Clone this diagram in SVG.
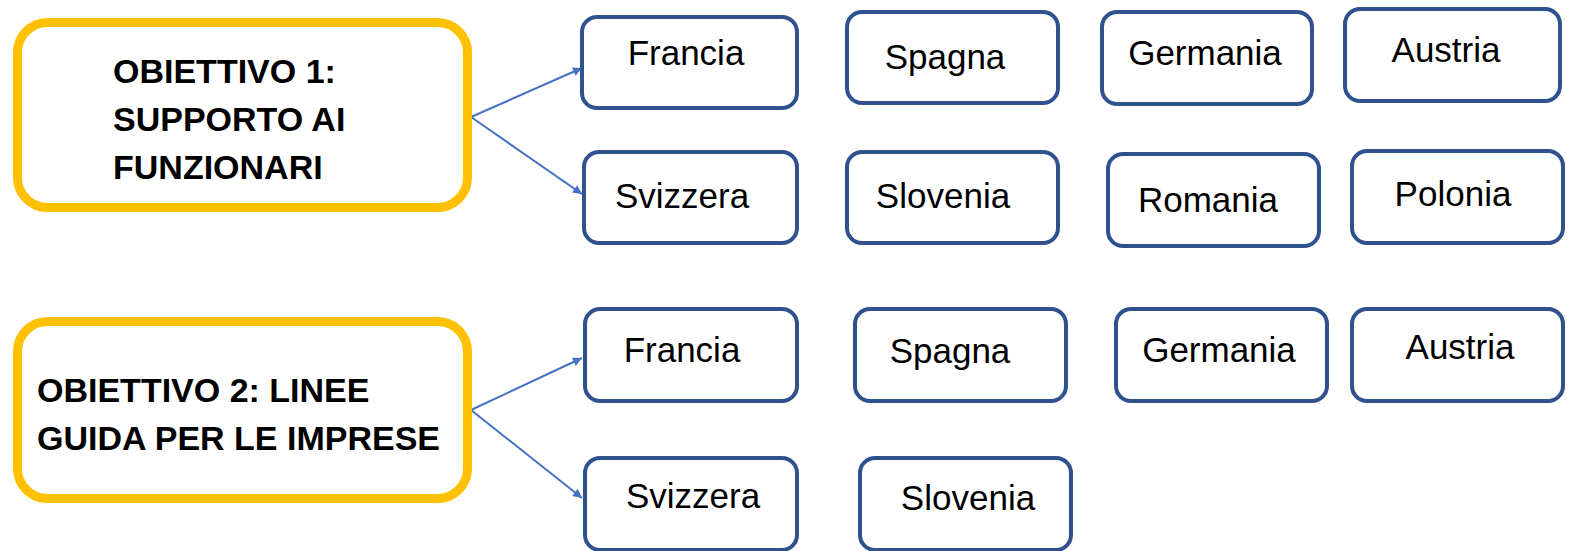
<svg xmlns="http://www.w3.org/2000/svg" width="1573" height="551" viewBox="0 0 1573 551">
<style>
.obj{fill:#FFFFFF;stroke:#FFC000;stroke-width:9}
.box{fill:#FFFFFF;stroke:#2F528F;stroke-width:4}
.ttl{font-family:"Liberation Sans",Arial,sans-serif;font-weight:bold;font-size:34px;fill:#000000}
.lbl{font-family:"Liberation Sans",Arial,sans-serif;font-size:35px;fill:#000000;text-anchor:middle}
.con{stroke:#4472C4;stroke-width:2;fill:none}
</style>
<defs>
<marker id="arr" viewBox="0 0 10 10" refX="10" refY="5" markerWidth="11" markerHeight="9" markerUnits="userSpaceOnUse" orient="auto">
<path d="M0,0 L10,5 L0,10 z" fill="#4472C4"/>
</marker>
</defs>
<g id="connectors">
<line class="con" x1="471" y1="117" x2="582" y2="68" marker-end="url(#arr)"/>
<line class="con" x1="471" y1="117" x2="582" y2="194" marker-end="url(#arr)"/>
<line class="con" x1="471" y1="410" x2="582" y2="358" marker-end="url(#arr)"/>
<line class="con" x1="471" y1="410" x2="582" y2="498" marker-end="url(#arr)"/>
</g>
<g id="obiettivo1">
<rect class="obj" x="17.5" y="22.5" width="450" height="185" rx="30"/>
<text class="ttl" x="113" y="83">OBIETTIVO 1:</text>
<text class="ttl" x="113" y="131">SUPPORTO AI</text>
<text class="ttl" x="113" y="179">FUNZIONARI</text>
</g>
<g id="obiettivo2">
<rect class="obj" x="17.5" y="321.5" width="450" height="177" rx="30"/>
<text class="ttl" x="37" y="402">OBIETTIVO 2: LINEE</text>
<text class="ttl" x="37" y="450">GUIDA PER LE IMPRESE</text>
</g>
<g id="r1-francia"><rect class="box" x="582" y="17" width="215" height="91" rx="15"/><text class="lbl" x="686" y="65">Francia</text></g>
<g id="r1-spagna"><rect class="box" x="847" y="12" width="211" height="91" rx="15"/><text class="lbl" x="945" y="69">Spagna</text></g>
<g id="r1-germania"><rect class="box" x="1102" y="12" width="210" height="92" rx="15"/><text class="lbl" x="1205" y="65">Germania</text></g>
<g id="r1-austria"><rect class="box" x="1345" y="9" width="215" height="92" rx="15"/><text class="lbl" x="1446" y="62">Austria</text></g>
<g id="r2-svizzera"><rect class="box" x="584" y="152" width="213" height="91" rx="15"/><text class="lbl" x="682" y="208">Svizzera</text></g>
<g id="r2-slovenia"><rect class="box" x="847" y="152" width="211" height="91" rx="15"/><text class="lbl" x="943" y="208">Slovenia</text></g>
<g id="r2-romania"><rect class="box" x="1108" y="154" width="211" height="92" rx="15"/><text class="lbl" x="1208" y="212">Romania</text></g>
<g id="r2-polonia"><rect class="box" x="1352" y="151" width="211" height="92" rx="15"/><text class="lbl" x="1453" y="206">Polonia</text></g>
<g id="r3-francia"><rect class="box" x="585" y="309" width="212" height="92" rx="15"/><text class="lbl" x="682" y="362">Francia</text></g>
<g id="r3-spagna"><rect class="box" x="855" y="309" width="211" height="92" rx="15"/><text class="lbl" x="950" y="363">Spagna</text></g>
<g id="r3-germania"><rect class="box" x="1116" y="309" width="211" height="92" rx="15"/><text class="lbl" x="1219" y="362">Germania</text></g>
<g id="r3-austria"><rect class="box" x="1352" y="309" width="211" height="92" rx="15"/><text class="lbl" x="1460" y="359">Austria</text></g>
<g id="r4-svizzera"><rect class="box" x="585" y="458" width="212" height="92" rx="15"/><text class="lbl" x="693" y="508">Svizzera</text></g>
<g id="r4-slovenia"><rect class="box" x="860" y="458" width="211" height="92" rx="15"/><text class="lbl" x="968" y="510">Slovenia</text></g>
</svg>
